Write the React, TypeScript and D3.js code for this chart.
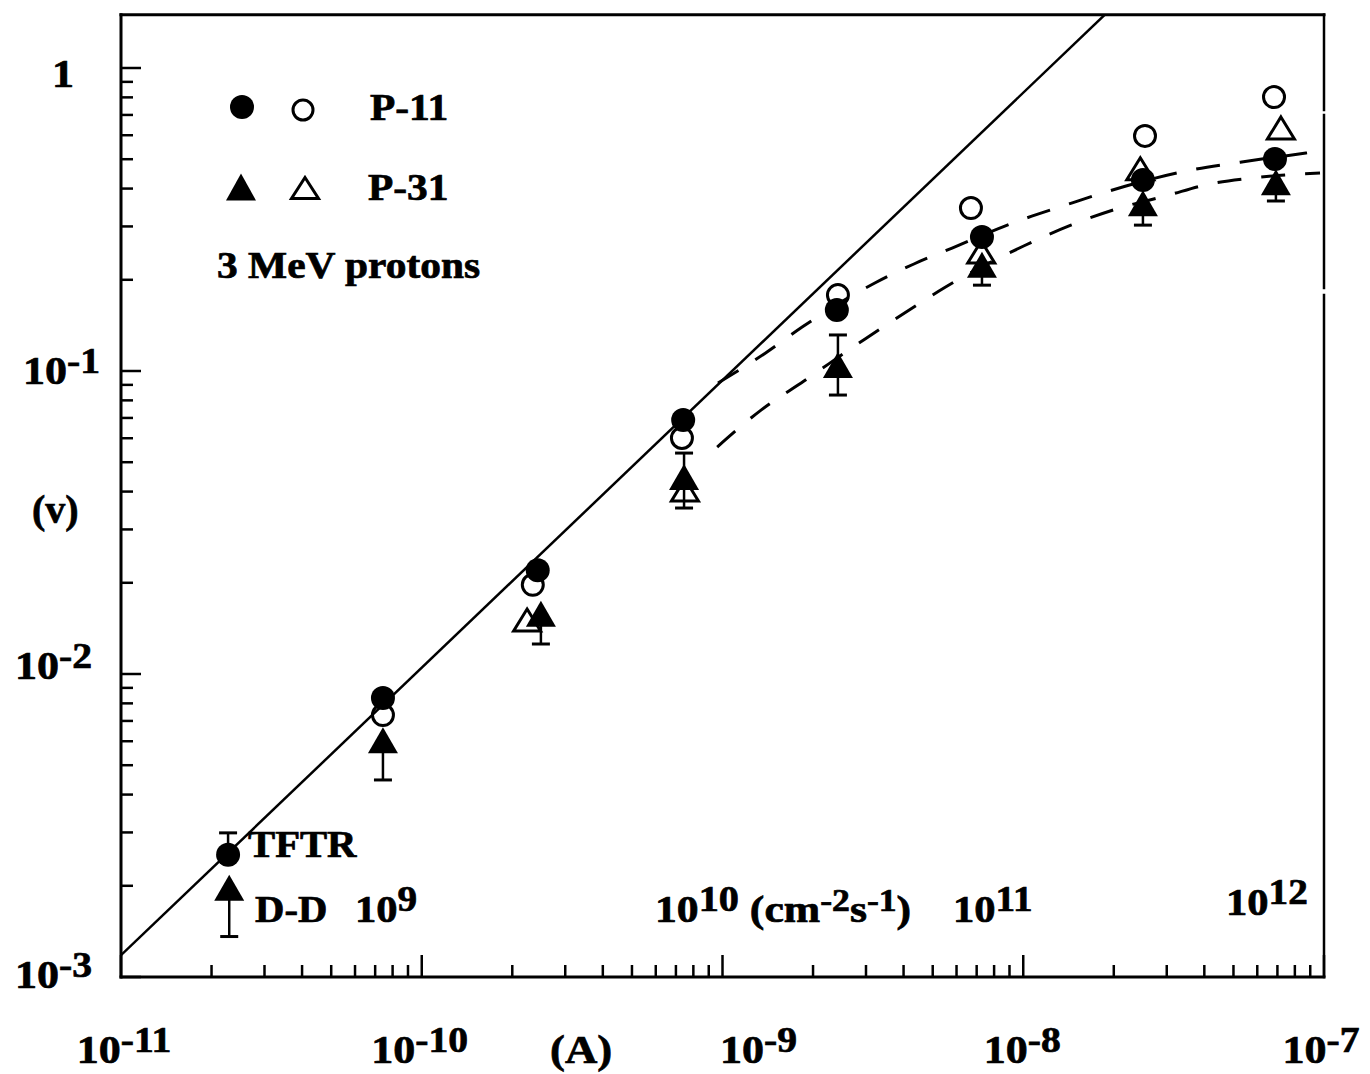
import React from 'react';
import * as d3 from 'd3';

// ---------- data ----------
// P-11, closed circles
const p11X = [2.27e-11, 7.43e-11, 2.43e-10, 7.40e-10, 2.40e-9, 7.29e-9, 2.50e-8, 6.87e-8];
const p11Y = [2.53e-3, 8.33e-3, 0.0220, 0.0689, 0.159, 0.277, 0.427, 0.501];
const p11ErrHigh: (number | null)[] = [2.99e-3, null, null, null, null, null, null, null];
// P-11, open circles
const p11OpenX = [7.43e-11, 2.34e-10, 7.33e-10, 2.42e-9, 6.70e-9, 2.54e-8, 6.82e-8];
const p11OpenY = [7.32e-3, 0.0197, 0.0601, 0.178, 0.345, 0.597, 0.802];
// P-31, closed triangles
const p31X = [2.29e-11, 7.43e-11, 2.49e-10, 7.45e-10, 2.42e-9, 7.29e-9, 2.50e-8, 6.92e-8];
const p31Y = [1.97e-3, 6.05e-3, 0.0158, 0.0447, 0.1047, 0.224, 0.358, 0.420];
const p31ErrLow = [1.36e-3, 4.47e-3, 0.01256, 0.0353, 0.0833, 0.192, 0.303, 0.364];
const p31ErrHigh: (number | null)[] = [null, null, null, 0.0536, 0.1315, null, null, null];
// P-31, open triangles
const p31OpenX = [2.24e-10, 7.50e-10, 7.25e-9, 2.45e-8, 7.19e-8];
const p31OpenY = [0.01507, 0.0405, 0.247, 0.465, 0.634];
// solid fit line
const fitX = [1e-11, 2e-8];
const fitY = [1.18e-3, 1.6];
// dashed curves
const dashUpperX = [9.66e-10, 1.406e-9, 1.84e-9, 3.21e-9, 4.33e-9, 5.80e-9, 9.61e-9, 1.355e-8, 1.928e-8, 3.61e-8, 5.33e-8, 8.71e-8, 9.7e-8];
const dashUpperY = [0.0913, 0.1155, 0.1397, 0.1952, 0.2255, 0.2546, 0.3126, 0.3506, 0.3926, 0.4606, 0.4897, 0.524, 0.532];
const dashLowerX = [9.60e-10, 1.343e-9, 1.866e-9, 2.98e-9, 4.14e-9, 5.50e-9, 1.007e-8, 1.44e-8, 1.99e-8, 3.05e-8, 4.02e-8, 5.77e-8, 9.7e-8];
const dashLowerY = [0.0561, 0.0743, 0.0927, 0.1276, 0.158, 0.189, 0.259, 0.303, 0.340, 0.381, 0.411, 0.4335, 0.450];
// tick labels
const xTickValues = [1e-11, 1e-10, 1e-9, 1e-8, 1e-7];
const xTickExps = ['-11', '-10', '-9', '-8', '-7'];
const yTickValues = [1e-3, 1e-2, 1e-1, 1];
const yTickBases = ['10', '10', '10', '1'];
const yTickExps = ['-3', '-2', '-1', ''];
const legendLabels = ['P-11', 'P-31'];
const fluxBases = ['10', '10', '10', '10'];
const fluxExps = ['9', '10', '11', '12'];

// ---------- layout ----------
const W = 1370;
const H = 1074;
const X0 = 121, X1 = 1324, YB = 977, DEC = 303;
const yTopVal = 1.5;
const YT = YB - DEC * Math.log10(yTopVal / 1e-3);

const x = d3.scaleLog().domain([1e-11, 1e-7]).range([X0, X1]);
const y = d3.scaleLog().domain([1e-3, yTopVal]).range([YB, YT]);

const FONT = '"Liberation Serif", "Times New Roman", serif';

const isMajor = (t: number) => Math.abs(Math.log10(t) - Math.round(Math.log10(t))) < 1e-6;

const tri = (cx: number, cy: number, w: number, h: number) =>
  `M${cx},${cy - h / 2}L${cx + w / 2},${cy + h / 2}L${cx - w / 2},${cy + h / 2}Z`;

function T(props: { x: number; y: number; sx?: number; size: number; anchor?: string; children: React.ReactNode }) {
  const { x: tx, y: ty, sx = 1, size, anchor = 'start', children } = props;
  return (
    <g transform={`translate(${tx},${ty}) scale(${sx},1)`}>
      <text x={0} y={0} fontSize={size} textAnchor={anchor}>
        {children}
      </text>
    </g>
  );
}

export default function App() {
  const xTicks = x.ticks();
  const yTicks = y.ticks().filter((t) => t <= 1.0000001);
  const lineGen = d3
    .line<[number, number]>()
    .x((d) => x(d[0]))
    .y((d) => y(d[1]));
  const curveGen = d3
    .line<[number, number]>()
    .x((d) => x(d[0]))
    .y((d) => y(d[1]))
    .curve(d3.curveMonotoneX);

  const fitPts = fitX.map((v, i) => [v, fitY[i]] as [number, number]);
  const upPts = dashUpperX.map((v, i) => [v, dashUpperY[i]] as [number, number]);
  const loPts = dashLowerX.map((v, i) => [v, dashLowerY[i]] as [number, number]);

  const xLabelDx = [3, -2, 36, -1, -3];
  const yLabelPos = [
    { x: 15, dy: 11 },
    { x: 15, dy: 5 },
    { x: 23, dy: 13 },
    { x: 52, dy: 19 },
  ];
  const capW = 9;

  return (
    <svg
      width={W}
      height={H}
      style={{ position: 'absolute', left: 0, top: 0, background: '#fff' }}
      fontFamily={FONT}
      fontWeight="bold"
    >
      <rect x={0} y={0} width={W} height={H} fill="#fff" />
      <defs>
        <clipPath id="plot">
          <rect x={X0} y={YT} width={X1 - X0} height={YB - YT} />
        </clipPath>
      </defs>

      {/* frame */}
      <g stroke="#000" fill="none" strokeLinecap="square">
        <line x1={X0} y1={YT} x2={X1} y2={YT} strokeWidth={3} />
        <line x1={X0} y1={YT} x2={X0} y2={YB} strokeWidth={3} />
        <line x1={X0} y1={YB} x2={X1} y2={YB} strokeWidth={3} />
        <line x1={X1} y1={YT} x2={X1} y2={110} strokeWidth={2.5} />
        <line x1={X1} y1={115} x2={X1} y2={288} strokeWidth={2.5} />
        <line x1={X1} y1={295} x2={X1} y2={YB} strokeWidth={2.5} />
      </g>

      {/* ticks */}
      <g stroke="#000" strokeWidth={2.5}>
        {xTicks.map((t, i) => (
          <line key={'xt' + i} x1={x(t)} x2={x(t)} y1={YB} y2={YB - (isMajor(t) ? 22 : 12)} />
        ))}
        {yTicks.map((t, i) => (
          <line key={'yt' + i} x1={X0} x2={X0 + (isMajor(t) ? 20 : 12)} y1={y(t)} y2={y(t)} />
        ))}
      </g>

      {/* tick labels */}
      <g fill="#000" stroke="#000" strokeWidth={0.7}>
        {xTickValues.map((v, i) => (
          <T key={'xl' + i} x={x(v) + xLabelDx[i]} y={1063} sx={1.1} size={40} anchor="middle">
            <tspan>10</tspan>
            <tspan dy={-11} fontSize={36}>{xTickExps[i]}</tspan>
          </T>
        ))}
        {yTickValues.map((v, i) => (
          <T key={'yl' + i} x={yLabelPos[i].x} y={y(v) + yLabelPos[i].dy} sx={1.1} size={40}>
            <tspan>{yTickBases[i]}</tspan>
            {yTickExps[i] && (
              <tspan dy={-11} fontSize={36}>{yTickExps[i]}</tspan>
            )}
          </T>
        ))}
        <T x={550} y={1063} sx={1.12} size={40}>(A)</T>
        <T x={32} y={523} size={40}>(v)</T>
      </g>

      {/* lines */}
      <g clipPath="url(#plot)" fill="none" stroke="#000">
        <path d={lineGen(fitPts) || ''} strokeWidth={2.5} />
        <path d={curveGen(upPts) || ''} strokeWidth={3} strokeDasharray="24,20" />
        <path d={curveGen(loPts) || ''} strokeWidth={3} strokeDasharray="24,20" />
      </g>

      {/* error bars */}
      <g stroke="#000" strokeWidth={2.5}>
        {p11X.map((v, i) =>
          p11ErrHigh[i] != null ? (
            <g key={'e11' + i}>
              <line x1={x(v)} x2={x(v)} y1={y(p11Y[i])} y2={y(p11ErrHigh[i] as number)} />
              <line x1={x(v) - capW} x2={x(v) + capW} y1={y(p11ErrHigh[i] as number)} y2={y(p11ErrHigh[i] as number)} strokeWidth={3} />
            </g>
          ) : null
        )}
        {p31X.map((v, i) => (
          <g key={'e31' + i}>
            <line x1={x(v)} x2={x(v)} y1={y(p31Y[i])} y2={y(p31ErrLow[i])} />
            <line x1={x(v) - capW} x2={x(v) + capW} y1={y(p31ErrLow[i])} y2={y(p31ErrLow[i])} strokeWidth={3} />
            {p31ErrHigh[i] != null && (
              <>
                <line x1={x(v)} x2={x(v)} y1={y(p31Y[i])} y2={y(p31ErrHigh[i] as number)} />
                <line x1={x(v) - capW} x2={x(v) + capW} y1={y(p31ErrHigh[i] as number)} y2={y(p31ErrHigh[i] as number)} strokeWidth={3} />
              </>
            )}
          </g>
        ))}
      </g>

      {/* open markers */}
      <g fill="none" stroke="#000" strokeWidth={3}>
        {p31OpenX.map((v, i) => (
          <path key={'ot' + i} d={tri(x(v), y(p31OpenY[i]), 27, 22)} strokeLinejoin="miter" />
        ))}
        {p11OpenX.map((v, i) => (
          <circle key={'oc' + i} cx={x(v)} cy={y(p11OpenY[i])} r={10.5} />
        ))}
      </g>

      {/* filled markers */}
      <g fill="#000">
        {p31X.map((v, i) => (
          <path key={'ft' + i} d={tri(x(v), y(p31Y[i]), 30, 26)} />
        ))}
        {p11X.map((v, i) => (
          <circle key={'fc' + i} cx={x(v)} cy={y(p11Y[i])} r={12} />
        ))}
      </g>

      {/* legend */}
      <g>
        <circle cx={242} cy={107} r={12} fill="#000" />
        <circle cx={303} cy={110} r={10} fill="none" stroke="#000" strokeWidth={3} />
        <path d={tri(241, 187, 30, 27)} fill="#000" />
        <path d={tri(305, 188, 27, 21)} fill="none" stroke="#000" strokeWidth={3} />
      </g>
      <g fill="#000" stroke="#000" strokeWidth={0.7}>
        <T x={370} y={120} sx={1.12} size={37}>{legendLabels[0]}</T>
        <T x={368} y={200} sx={1.12} size={37}>{legendLabels[1]}</T>
        <T x={217} y={278} sx={1.12} size={37}>3 MeV protons</T>
        <T x={248} y={857} sx={1.1} size={37}>TFTR</T>
        <T x={255} y={922} sx={1.1} size={37}>D-D</T>
        <T x={355} y={922} sx={1.12} size={38}>
          <tspan>{fluxBases[0]}</tspan>
          <tspan dy={-11} fontSize={35}>{fluxExps[0]}</tspan>
        </T>
        <T x={655} y={922} sx={1.15} size={38}>
          <tspan>{fluxBases[1]}</tspan>
          <tspan dy={-11} fontSize={35}>{fluxExps[1]}</tspan>
          <tspan dy={11}> (cm</tspan>
          <tspan dy={-11} fontSize={31}>-2</tspan>
          <tspan dy={11}>s</tspan>
          <tspan dy={-11} fontSize={31}>-1</tspan>
          <tspan dy={11}>)</tspan>
        </T>
        <T x={953} y={922} sx={1.12} size={38}>
          <tspan>{fluxBases[2]}</tspan>
          <tspan dy={-11} fontSize={35}>{fluxExps[2]}</tspan>
        </T>
        <T x={1226} y={915} sx={1.12} size={38}>
          <tspan>{fluxBases[3]}</tspan>
          <tspan dy={-11} fontSize={35}>{fluxExps[3]}</tspan>
        </T>
      </g>
    </svg>
  );
}
